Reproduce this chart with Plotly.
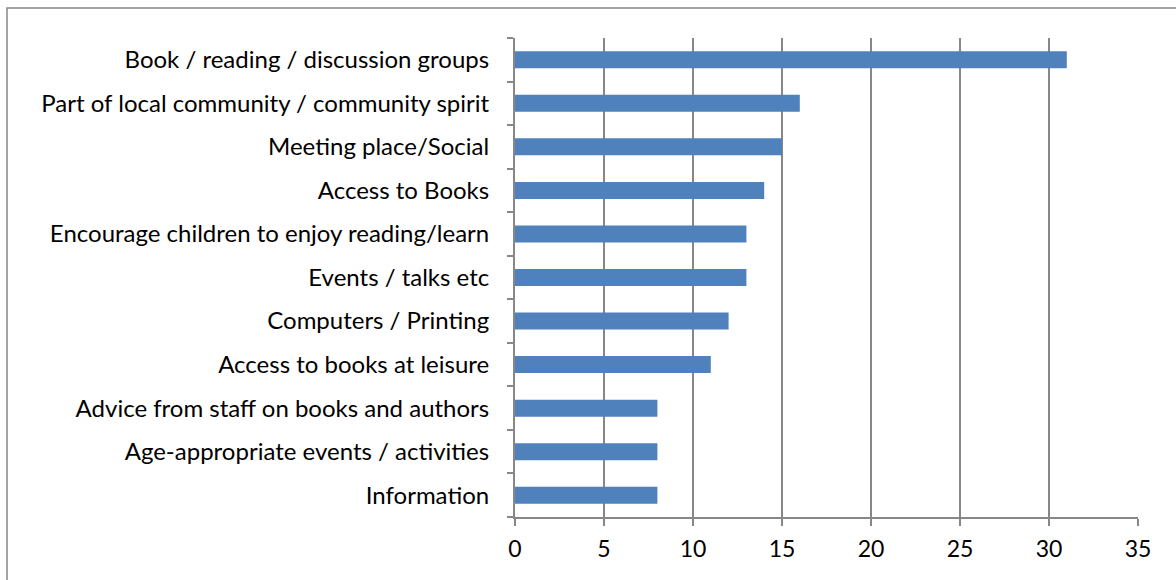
import plotly.graph_objects as go

categories = [
    "Book / reading / discussion groups",
    "Part of local community / community spirit",
    "Meeting place/Social",
    "Access to Books",
    "Encourage children to enjoy reading/learn",
    "Events / talks etc",
    "Computers / Printing",
    "Access to books at leisure",
    "Advice from staff on books and authors",
    "Age-appropriate events / activities",
    "Information",
]
values = [31, 16, 15, 14, 13, 13, 12, 11, 8, 8, 8]
x_ticks = [0, 5, 10, 15, 20, 25, 30, 35]

GRAY = "#878787"
FONT = "Lato"


def get_bar_figure(cats: list, vals: list):
    fig = go.Figure()

    fig.add_trace(
        go.Bar(
            x=vals,
            y=cats,
            orientation="h",
            marker=dict(color="#4F81BD", line=dict(width=0)),
        )
    )

    fig.update_layout(
        width=1176,
        height=580,
        margin={"l": 515, "r": 38, "t": 38, "b": 63},
        plot_bgcolor="white",
        paper_bgcolor="white",
        bargap=0.61,
        showlegend=False,
        font=dict(family=FONT, size=24, color="black"),
        # outer chart border, runs off the right and bottom of the picture
        shapes=[
            dict(
                type="rect", xref="paper", yref="paper",
                x0=-0.8154, x1=1.3, y0=-0.4, y1=1.0626,
                line=dict(color=GRAY, width=1.5),
            )
        ],
    )

    fig.update_xaxes(
        range=[0, 35],
        tickvals=x_ticks,
        showgrid=True,
        gridcolor=GRAY,
        gridwidth=2,
        showline=True,
        linecolor=GRAY,
        linewidth=2,
        ticks="outside",
        ticklen=7,
        tickwidth=2,
        tickcolor=GRAY,
        zeroline=False,
        ticklabelstandoff=3,
        tickfont=dict(size=23),
    )

    fig.update_yaxes(
        categoryorder="array",
        categoryarray=cats[::-1],
        showgrid=False,
        showline=True,
        linecolor=GRAY,
        linewidth=2,
        ticks="outside",
        tickson="boundaries",
        ticklen=6,
        tickwidth=2,
        tickcolor=GRAY,
        ticklabelstandoff=19,
        tickfont=dict(size=24),
    )

    return fig


fig = get_bar_figure(categories, values)
fig.write_html(
    "out.html",
    config={"displayModeBar": False},
    post_script="document.body.style.margin = '0';",
)
